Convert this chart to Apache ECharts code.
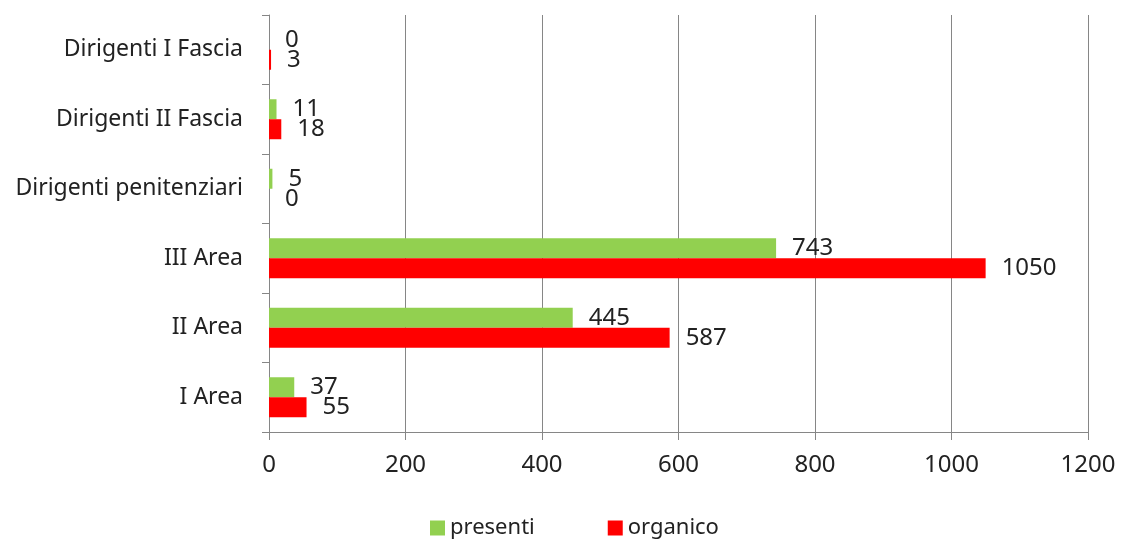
<!DOCTYPE html>
<html><head><meta charset="utf-8">
<script src="https://cdn.jsdelivr.net/npm/echarts@6/dist/echarts.min.js"></script>
<style>html,body{margin:0;padding:0;background:#fff}#c{width:1121px;height:543px}</style>
</head><body><div id="c"></div>
<script>
var categories = ["I Area","II Area","III Area","Dirigenti penitenziari","Dirigenti II Fascia","Dirigenti I Fascia"];
var presenti = [37,445,743,5,11,0];
var organico = [55,587,1050,0,18,3];
var xTicks = [0,200,400,600,800,1000,1200];

var chart = echarts.init(document.getElementById('c'));
var font = "'Noto Sans', sans-serif";
var gray = '#868686';
chart.setOption({
  animation:false,
  grid:{left:269,right:33,top:15,bottom:111,containLabel:false},
  legend:{data:['presenti','organico'],left:425,top:512,itemWidth:15,itemHeight:15,itemGap:73,
    icon:'rect',textStyle:{fontFamily:font,fontSize:22,color:'#222'}},
  xAxis:{type:'value',min:xTicks[0],max:xTicks[xTicks.length-1],interval:200,
    axisLine:{show:true,lineStyle:{color:gray}},
    axisTick:{show:true,length:8,lineStyle:{color:gray}},
    splitLine:{show:true,lineStyle:{color:gray,width:1}},
    axisLabel:{fontFamily:font,fontSize:24,color:'#222',margin:21,formatter:function(v){return String(v);}}},
  yAxis:{type:'category',data:categories,
    axisLine:{show:true,lineStyle:{color:gray}},
    axisTick:{show:true,length:7,lineStyle:{color:gray}},
    axisLabel:{fontFamily:font,fontSize:23,color:'#222',margin:26}},
  series:[
    {name:'presenti',type:'bar',data:presenti,barWidth:20,barGap:'0%',
     itemStyle:{color:'#92D050'},
     label:{show:true,position:'right',distance:16,fontFamily:font,fontSize:24,color:'#222'}},
    {name:'organico',type:'bar',data:organico,barWidth:20,barGap:'0%',
     itemStyle:{color:'#FF0000'},
     label:{show:true,position:'right',distance:16,fontFamily:font,fontSize:24,color:'#222'}}
  ]
});
</script></body></html>
